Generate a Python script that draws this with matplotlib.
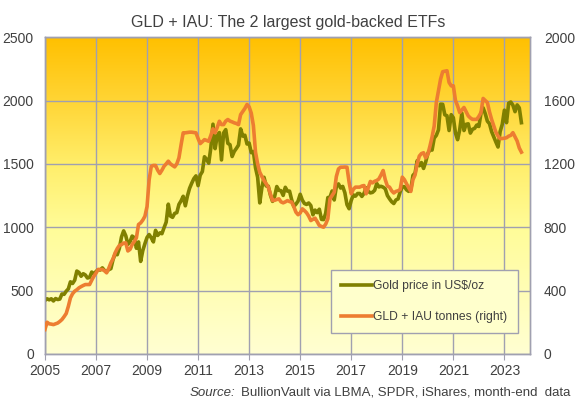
import numpy as np
import matplotlib
matplotlib.use("Agg")
import matplotlib.pyplot as plt
from matplotlib.colors import LinearSegmentedColormap

plt.rcParams['font.family'] = ['Liberation Sans', 'DejaVu Sans']

# month-end values, Jan 2005 .. Sep 2023
gold_price = [
    422, 435, 427, 435, 418, 437, 429, 433, 473, 470, 495, 513,          # 2005
    569, 556, 582, 654, 643, 613, 633, 623, 599, 604, 646, 632,          # 2006
    650, 665, 662, 679, 659, 650, 665, 673, 743, 789, 783, 834,          # 2007
    923, 971, 933, 865, 885, 930, 918, 834, 884, 730, 815, 870,          # 2008
    919, 942, 916, 884, 975, 935, 955, 949, 996, 1040, 1182, 1088,       # 2009
    1078, 1109, 1115, 1180, 1208, 1244, 1169, 1247, 1307, 1347, 1383, 1405,  # 2010
    1328, 1411, 1439, 1556, 1536, 1505, 1628, 1813, 1620, 1722, 1747, 1531,  # 2011
    1744, 1770, 1662, 1651, 1558, 1598, 1622, 1648, 1776, 1719, 1726, 1657,  # 2012
    1664, 1588, 1598, 1469, 1394, 1192, 1314, 1394, 1326, 1324, 1253, 1204,  # 2013
    1244, 1321, 1291, 1288, 1251, 1315, 1285, 1285, 1216, 1164, 1182, 1206,  # 2014
    1260, 1214, 1187, 1180, 1191, 1171, 1098, 1135, 1115, 1142, 1062, 1060,  # 2015
    1111, 1234, 1237, 1286, 1215, 1320, 1342, 1309, 1322, 1272, 1178, 1146,  # 2016
    1212, 1255, 1245, 1266, 1266, 1243, 1267, 1311, 1283, 1271, 1275, 1291,  # 2017
    1345, 1318, 1323, 1316, 1303, 1250, 1224, 1201, 1187, 1215, 1223, 1279,  # 2018
    1319, 1320, 1295, 1283, 1296, 1409, 1427, 1525, 1485, 1510, 1464, 1515,  # 2019
    1582, 1610, 1609, 1703, 1725, 1768, 1971, 1970, 1887, 1880, 1763, 1888,  # 2020
    1864, 1743, 1691, 1770, 1900, 1763, 1812, 1816, 1743, 1773, 1780, 1806,  # 2021
    1795, 1900, 1942, 1896, 1837, 1817, 1754, 1712, 1672, 1633, 1755, 1812,  # 2022
    1924, 1825, 1979, 1988, 1963, 1912, 1965, 1942, 1825,                    # 2023
]

etf_tonnes = [
    154, 200, 190, 188, 185, 190, 195, 205, 217, 235, 255, 300,          # 2005
    354, 380, 396, 405, 417, 425, 432, 438, 438, 438, 465, 490,          # 2006
    510, 533, 533, 533, 525, 512, 540, 575, 600, 638, 665, 685,          # 2007
    690, 700, 701, 650, 660, 690, 710, 733, 817, 827, 845, 869,          # 2008
    930, 1100, 1185, 1190, 1190, 1160, 1139, 1160, 1185, 1200, 1217, 1200,   # 2009
    1190, 1181, 1200, 1238, 1320, 1396, 1396, 1398, 1400, 1400, 1398, 1396,  # 2010
    1360, 1328, 1340, 1353, 1348, 1343, 1380, 1421, 1396, 1430, 1469, 1448,  # 2011
    1448, 1470, 1480, 1470, 1465, 1459, 1455, 1448, 1511, 1530, 1550, 1575,  # 2012
    1560, 1520, 1442, 1274, 1200, 1147, 1120, 1095, 1075, 1053, 1010, 968,   # 2013
    970, 975, 979, 960, 954, 960, 968, 962, 958, 930, 895, 879,          # 2014
    890, 916, 905, 891, 870, 842, 850, 857, 835, 811, 805, 800,          # 2015
    820, 853, 979, 1000, 1021, 1120, 1168, 1179, 1179, 1180, 1179, 1084,     # 2016
    1011, 1040, 1053, 1053, 1053, 1060, 1063, 1011, 1050, 1089, 1080, 1090,  # 2017
    1095, 1105, 1130, 1158, 1100, 1060, 1053, 1030, 1016, 1026, 1030, 1038,  # 2018
    1116, 1100, 1074, 1050, 1026, 1100, 1130, 1200, 1249, 1265, 1270, 1238,  # 2019
    1260, 1312, 1370, 1439, 1587, 1660, 1735, 1782, 1785, 1788, 1714, 1693,  # 2020
    1693, 1600, 1566, 1524, 1540, 1556, 1530, 1503, 1490, 1481, 1481, 1481,  # 2021
    1500, 1524, 1613, 1600, 1587, 1528, 1480, 1439, 1400, 1376, 1359, 1360,  # 2022
    1362, 1365, 1375, 1380, 1397, 1370, 1344, 1300, 1274,                    # 2023
]

year_ticks = list(range(2005, 2024, 2))
dates = 2005 + np.arange(len(gold_price)) / 12.0

fig = plt.figure(figsize=(5.76, 4.04), dpi=100)
ax = fig.add_axes([0.078, 0.124, 0.842, 0.784])

# background gradient
cmap = LinearSegmentedColormap.from_list(
    "bg", [(0.0, "#FFC000"), (0.2, "#FFD535"), (0.4, "#FFEE6A"),
           (0.6, "#FFFC98"), (1.0, "#FFFFD2")])
grad = np.linspace(0, 1, 256).reshape(-1, 1)
ax.imshow(grad, cmap=cmap, aspect="auto", extent=[0, 1, 0, 1],
          transform=ax.transAxes, zorder=0, origin="upper")

grid_col = "#A0A0B0"
ax.plot(dates, gold_price, color="#808000", lw=2.6, zorder=3,
        solid_joinstyle="round", label="Gold price in US$/oz")
ax.set_xlim(2005, 2024)
ax.set_ylim(0, 2500)
ax.set_xticks(year_ticks)
ax.set_yticks(range(0, 2501, 500))
ax.grid(True, color=grid_col, lw=1.0, zorder=1)
ax.set_axisbelow(True)

ax2 = ax.twinx()
ax2.plot(dates, etf_tonnes, color="#ED7D31", lw=2.6, zorder=3,
         solid_joinstyle="round", label="GLD + IAU tonnes (right)")
ax2.set_ylim(0, 2000)
ax2.set_yticks(range(0, 2001, 400))

for a in (ax, ax2):
    for s in a.spines.values():
        s.set_color(grid_col)
        s.set_linewidth(1.0)
    a.tick_params(colors="#404040", labelsize=10)
ax.tick_params(axis="x", length=4, color=grid_col, pad=3)
ax.tick_params(axis="y", length=0, pad=8)
ax2.tick_params(axis="y", length=0, pad=10)

h1, l1 = ax.get_legend_handles_labels()
h2, l2 = ax2.get_legend_handles_labels()
leg = ax2.legend(h1 + h2, l1 + l2, loc="lower right", bbox_to_anchor=(0.975, 0.065),
                 fontsize=8.7, frameon=True, fancybox=False, handlelength=2.6,
                 handletextpad=0.1, labelspacing=1.55, borderpad=0.85,
                 borderaxespad=0.0, labelcolor="#404040")
leg.get_frame().set_facecolor("#FFFFCC")
leg.get_frame().set_edgecolor(grid_col)
leg.get_frame().set_alpha(1)

fig.text(0.5, 0.945, "GLD + IAU: The 2 largest gold-backed ETFs", ha="center",
         va="center", fontsize=11.5, color="#404040")
src = fig.text(0.99, 0.028, "BullionVault via LBMA, SPDR, iShares, month-end  data",
               ha="right", va="center", fontsize=9.5, color="#404040")
plt.annotate("Source:", xy=(0, 0.5), xycoords=src, xytext=(-4, 0),
             textcoords="offset points", ha="right", va="center", fontsize=9.5,
             color="#404040", style="italic")

fig.savefig("out.png", dpi=100)
